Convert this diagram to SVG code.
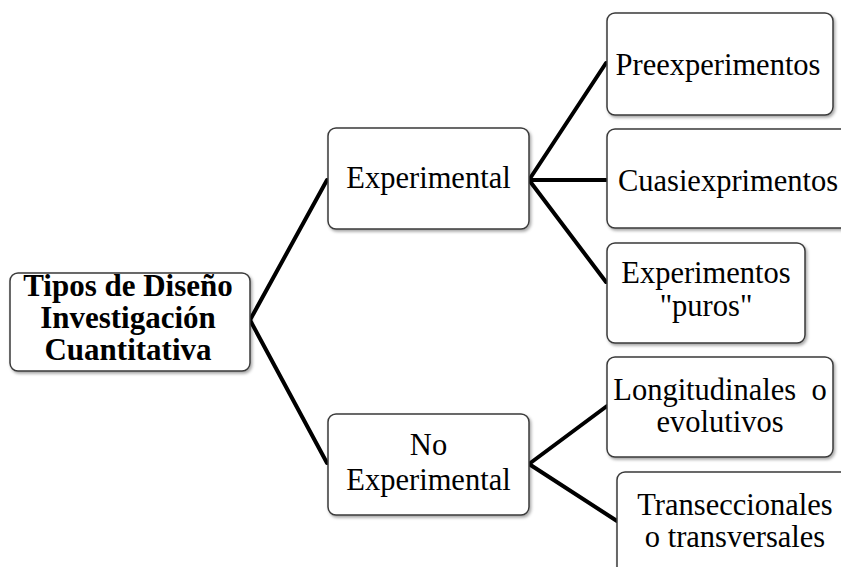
<svg xmlns="http://www.w3.org/2000/svg" width="841" height="567" viewBox="0 0 841 567">
<style>
.box{fill:#fff;stroke:#3a3a3a;stroke-width:1.5;filter:url(#sh)}
.t{font-family:"Liberation Serif","Times New Roman",serif;font-size:30.5px;fill:#000;text-anchor:middle}
.b{font-weight:bold;font-size:31px}
.c{stroke:#000;stroke-width:4;stroke-linecap:round;fill:none}
</style>
<defs>
<filter id="sh" x="-10%" y="-10%" width="130%" height="130%">
<feDropShadow dx="1.5" dy="2" stdDeviation="1.5" flood-color="#000" flood-opacity="0.35"/>
</filter>
</defs>
<rect width="841" height="567" fill="#fff"/>
<g id="connectors">
<line class="c" x1="250" y1="320" x2="327" y2="180"/>
<line class="c" x1="250" y1="320" x2="327" y2="463"/>
<line class="c" x1="529" y1="180" x2="606" y2="63"/>
<line class="c" x1="529" y1="180" x2="606" y2="180"/>
<line class="c" x1="529" y1="180" x2="606" y2="282"/>
<line class="c" x1="529" y1="464" x2="607" y2="406"/>
<line class="c" x1="529" y1="464" x2="617" y2="521"/>
</g>
<g id="root">
<rect class="box" x="10" y="273" width="240" height="98" rx="8"/>
<text class="t b" x="128" y="296">Tipos de Diseño</text>
<text class="t b" x="128" y="328">Investigación</text>
<text class="t b" x="128" y="360">Cuantitativa</text>
</g>
<g id="experimental">
<rect class="box" x="328" y="128" width="201" height="101" rx="8"/>
<text class="t" x="428.5" y="188">Experimental</text>
</g>
<g id="no-experimental">
<rect class="box" x="328" y="414" width="201" height="101" rx="8"/>
<text class="t" x="428.5" y="455">No</text>
<text class="t" x="428.5" y="490">Experimental</text>
</g>
<g id="preexperimentos">
<rect class="box" x="607" y="13" width="226" height="102" rx="8"/>
<text class="t" x="718" y="75">Preexperimentos</text>
</g>
<g id="cuasiexprimentos">
<rect class="box" x="607" y="129" width="250" height="99" rx="8"/>
<text class="t" x="728" y="191">Cuasiexprimentos</text>
</g>
<g id="experimentos-puros">
<rect class="box" x="607" y="243" width="198" height="100" rx="8"/>
<text class="t" x="706" y="283">Experimentos</text>
<text class="t" x="706" y="316">"puros"</text>
</g>
<g id="longitudinales">
<rect class="box" x="607" y="357" width="226" height="100" rx="8"/>
<text class="t" x="720" y="400" xml:space="preserve">Longitudinales  o</text>
<text class="t" x="720" y="432">evolutivos</text>
</g>
<g id="transeccionales">
<rect class="box" x="617" y="472" width="240" height="105" rx="8"/>
<text class="t" x="735" y="515">Transeccionales</text>
<text class="t" x="735" y="547">o transversales</text>
</g>
</svg>
